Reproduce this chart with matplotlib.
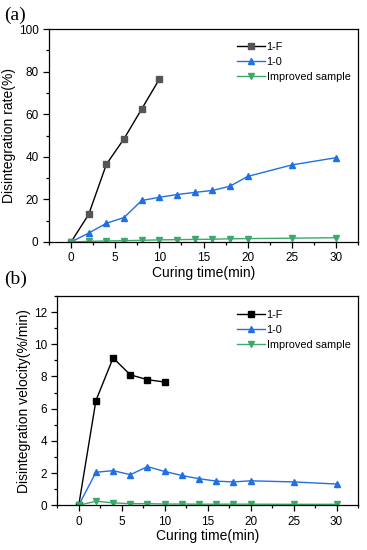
import matplotlib
matplotlib.use("Agg")
import matplotlib.pyplot as plt
from matplotlib.ticker import MultipleLocator

plt.rcParams['font.family'] = ['Liberation Sans', 'DejaVu Sans']

# curing time (min)
t_f = [0, 2, 4, 6, 8, 10]
t_all = [0, 2, 4, 6, 8, 10, 12, 14, 16, 18, 20, 25, 30]

# (a) disintegration rate (%)
rate_1f = [0, 13, 36.5, 48.5, 62.5, 76.5]
rate_10 = [0, 4.2, 8.8, 11.5, 19.5, 21, 22.3, 23.3, 24.2, 26.2, 30.8, 36.2, 39.6]
rate_imp = [0, 0.3, 0.5, 0.6, 0.8, 1.0, 1.1, 1.2, 1.3, 1.5, 1.6, 1.8, 2.0]

# (b) disintegration velocity (%/min)
vel_1f = [0, 6.5, 9.15, 8.1, 7.8, 7.65]
vel_10 = [0, 2.05, 2.15, 1.9, 2.4, 2.1, 1.85, 1.65, 1.5, 1.45, 1.52, 1.45, 1.32]
vel_imp = [0, 0.25, 0.15, 0.1, 0.1, 0.08, 0.08, 0.07, 0.07, 0.07, 0.07, 0.06, 0.06]

labels = ['1-F', '1-0', 'Improved sample']
blue = '#1f6fe5'
green = '#3aaa6a'

fig = plt.figure(figsize=(3.67, 5.5), dpi=100)
ax1 = fig.add_axes([0.1335, 0.56, 0.842, 0.387])
ax2 = fig.add_axes([0.156, 0.0813, 0.8195, 0.3807])


def style(ax, ylabel, ymax, ymaj, ymin, legend_y):
    ax.set_xlim(-2.5, 32.5)
    ax.set_ylim(0, ymax)
    ax.xaxis.set_major_locator(MultipleLocator(5))
    ax.xaxis.set_minor_locator(MultipleLocator(2.5))
    ax.yaxis.set_major_locator(MultipleLocator(ymaj))
    ax.yaxis.set_minor_locator(MultipleLocator(ymin))
    ax.tick_params(which='both', direction='out', labelsize=8.5, width=0.9)
    ax.tick_params(which='major', length=4)
    ax.tick_params(which='minor', length=2.5)
    ax.set_xlabel('Curing time(min)', fontsize=10, labelpad=1)
    ax.set_ylabel(ylabel, fontsize=10, labelpad=2)
    for s in ax.spines.values():
        s.set_linewidth(0.9)
    ax.legend(loc='upper right', frameon=False, fontsize=7.8, handlelength=2.6,
              labelspacing=0.45, handletextpad=0.15, borderaxespad=0.3,
              bbox_to_anchor=(1.0, legend_y))


ax1.plot(t_f, rate_1f, color='black', lw=1, marker='s', ms=4.5, mfc='#555555', mec='#555555', label=labels[0])
ax1.plot(t_all, rate_10, color=blue, lw=1, marker='^', ms=5, label=labels[1])
ax1.plot(t_all, rate_imp, color=green, lw=1, marker='v', ms=5, label=labels[2])
style(ax1, 'Disintegration rate(%)', 100, 20, 10, 0.975)

ax2.plot(t_f, vel_1f, color='black', lw=1, marker='s', ms=4.5, label=labels[0])
ax2.plot(t_all, vel_10, color=blue, lw=1, marker='^', ms=5, label=labels[1])
ax2.plot(t_all, vel_imp, color=green, lw=1, marker='v', ms=5, label=labels[2])
style(ax2, 'Disintegration velocity(%/min)', 13, 2, 1, 0.97)

fig.text(0.012, 0.972, '(a)', fontsize=14, family='Liberation Serif', va='center')
fig.text(0.012, 0.493, '(b)', fontsize=14, family='Liberation Serif', va='center')

fig.savefig('out.png', dpi=100)
